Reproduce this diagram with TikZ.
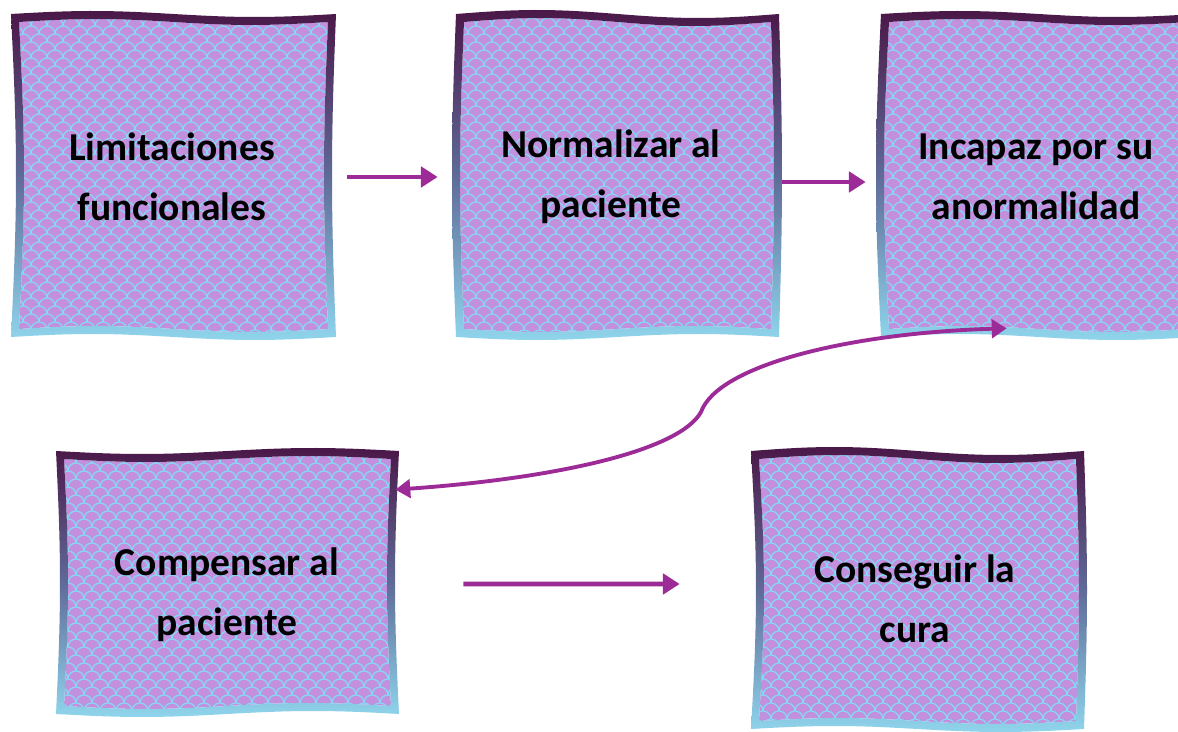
\documentclass[tikz,border=0pt]{standalone}
\usepackage{fontspec}
\setmainfont{Carlito}
\usetikzlibrary{arrows.meta,calc}
\definecolor{boxfill}{HTML}{C290DD}
\definecolor{scalecol}{HTML}{84D8F6}
\definecolor{bordtop}{HTML}{4A1848}
\definecolor{bordmid}{HTML}{5F6A98}
\definecolor{bordbot}{HTML}{8FD5EC}
\definecolor{arrowcol}{HTML}{9C2B97}

% closed wavy loop, offset #1 (positive = inward)
\newcommand\edgeloop[1]{%
 plot[domain=0:1,samples=30,variable=\t] ({\bxL+(#1)+\t*(\bxR-\bxL-2*(#1))},{\bxT+(#1)+\wvT*sin(360*\t)})
 -- plot[domain=0:1,samples=30,variable=\t] ({\bxR-(#1)+\wvR*sin(180*\t)},{\bxT+(#1)+\t*(\bxB-\bxT-2*(#1))})
 -- plot[domain=0:1,samples=30,variable=\t] ({\bxR-(#1)-\t*(\bxR-\bxL-2*(#1))},{\bxB-(#1)+\wvB*sin(360*\t)})
 -- plot[domain=0:1,samples=30,variable=\t] ({\bxL+(#1)+\wvL*sin(180*\t)},{\bxB-(#1)-\t*(\bxB-\bxT-2*(#1))})
 -- cycle}

\newcommand\drawwavy[9]{%
  \def\bxL{#1}\def\bxT{#2}\def\bxR{#3}\def\bxB{#4}%
  \def\wvT{#5}\def\wvR{#6}\def\wvB{#7}\def\wvL{#8}%
  \fill[boxfill] \edgeloop{4};
  \begin{scope}
    \clip \edgeloop{4};
    \draw[scalepat] foreach \j in {0,...,#9} {foreach \i in {0,...,21}
      { ({\bxL-8+\i*16+mod(\j,2)*8},{\bxT+\j*8}) arc[start angle=180,end angle=360,radius=8] }};
  \end{scope}
  \shade[top color=bordtop,bottom color=bordbot,middle color=bordmid,even odd rule]
    \edgeloop{-4} \edgeloop{4};
}

\tikzset{
  scalepat/.style={draw=scalecol,line width=0.7pt},
  boxnode/.style={draw=none,inner sep=0pt,rectangle},
  boxtext/.style={font=\bfseries\fontsize{22.5}{34}\selectfont,align=center,text=black},
  arr/.style={draw=arrowcol,line width=2.8pt,-{Triangle[length=9.5pt,width=11.5pt]}},
  curvearr/.style={draw=arrowcol,line width=2.2pt,{Triangle[length=8.5pt,width=10.5pt]}-{Triangle[length=8.5pt,width=10.5pt]}}
}

\begin{document}
\begin{tikzpicture}[x=0.02cm,y=-0.02cm]
\useasboundingbox (0,0) rectangle (1178,732);
\clip (0,0) rectangle (1178,732);

% boxes
\drawwavy{15}{18}{332}{333}{-3}{-4}{3}{5}{42}
\node[boxnode,minimum width=6.34cm,minimum height=6.3cm] (b1) at (173.5,175.5) {};
\node[boxtext] (t1) at (172,177) {Limitaciones\\funcionales};

\drawwavy{460}{18}{775}{333}{-4}{3}{-3}{-4}{42}
\node[boxnode,minimum width=6.3cm,minimum height=6.3cm] (b2) at (617.5,175.5) {};
\node[boxtext] (t2) at (611,177) {Normalizar al\\paciente};

\drawwavy{885}{18}{1192}{333}{-3}{3}{3}{-5}{42}
\node[boxnode,minimum width=6.14cm,minimum height=6.3cm] (b3) at (1038.5,175.5) {};
\node[boxtext] (t3) at (1036,177) {Incapaz por su\\anormalidad};

\drawwavy{60}{455}{395}{710}{3}{-4}{-3}{4}{34}
\node[boxnode,minimum width=6.7cm,minimum height=5.1cm] (b4) at (227.5,582.5) {};
\node[boxtext] (t4) at (227,595) {Compensar al\\paciente};

\drawwavy{755}{455}{1080}{725}{-4}{3}{3}{5}{36}
\node[boxnode,minimum width=6.5cm,minimum height=5.4cm] (b5) at (917.5,590) {};
\node[boxtext] (t5) at (915,599) {Conseguir la\\cura};

% connectors
\draw[arr] ($(b1.east)+(15,1.5)$) -- ($(b2.west)+(-22,1.5)$);
\draw[arr] ($(b2.east)+(7,6.5)$) -- ($(b3.west)+(-19,6.5)$);
\draw[arr] ($(b4.east)+(68,1.5)$) -- ($(b5.west)+(-75,-6)$);
\draw[curvearr] ($(b4.north east)+(0,35)$) .. controls (560,478) and (680,450) .. (701,412)
   .. controls (718,365) and (850,333) .. ($(b3.south west)+(122,-5)$);
\end{tikzpicture}
\end{document}
